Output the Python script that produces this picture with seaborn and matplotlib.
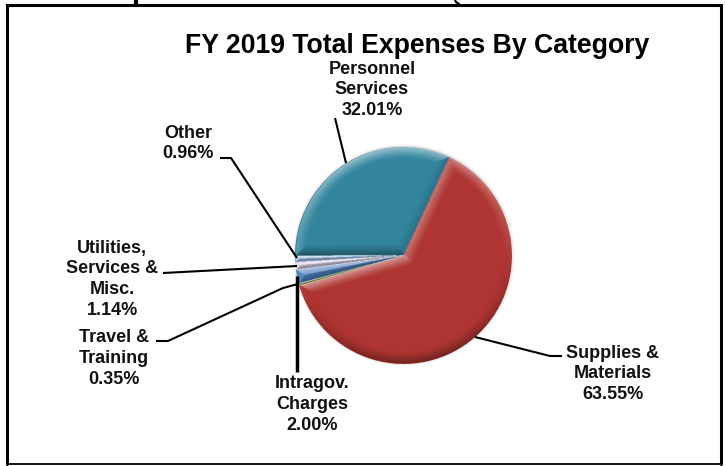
import numpy as np
import matplotlib.pyplot as plt
import seaborn as sns

sns.set_theme(style="white")
plt.rcParams['font.family'] = ['Liberation Sans', 'DejaVu Sans']

# slices clockwise, starting at the personnel/supplies boundary
categories = ["Supplies &\nMaterials", "Travel &\nTraining", "Intragov.\nCharges",
              "Utilities,\nServices &\nMisc.", "Other", "Personnel\nServices"]
shares = [63.55, 0.35, 2.00, 1.14, 0.96, 32.01]
slice_colors = ["#AE3531", "#8FA84F", "#4F81BD", "#DCD2EA", "#A9C6EE", "#33859E"]
chart_title = "FY 2019 Total Expenses By Category"

W, H = 726, 466
cx, cy, R = 403.5, H - 255.5, 108.5
start_angle = 65

# label centre (x, y of first line) in pixels from top left
label_pos = [(613, 351), (114, 336), (312, 382), (112, 246), (188, 131), (372, 67)]
leaders = [
    [(475, 337), (550, 356), (562, 356)],
    [(156, 341), (168, 341), (283, 288), (298, 284)],
    [(297, 276), (297, 372)],
    [(163, 273), (297, 266)],
    [(220, 158), (231, 158), (297, 258)],
    [(335, 118), (346, 163)],
]
leader_widths = [1.5, 1.5, 2.5, 1.5, 1.5, 1.5]


def bevel_overlay(values):
    # rgba layer that fakes the soft-edge bevel of the slices
    n = 2 * int(R + 6)
    xs = np.linspace(-n / 2, n / 2, n * 2)
    X, Y = np.meshgrid(xs, xs)
    rad = np.hypot(X, Y)
    ang = np.degrees(np.arctan2(Y, X))
    light = np.array([-0.15, 0.99])
    width = 12.0
    shade = np.zeros_like(X)
    a_end = start_angle
    for v in values:
        a_start = a_end - v * 3.6
        phi = (ang - a_start) % 360
        span = a_end - a_start
        inside = (phi <= span) & (rad <= R)
        d_arc = R - rad
        d_lo = rad * np.sin(np.radians(np.minimum(phi, 90)))
        d_hi = rad * np.sin(np.radians(np.minimum(span - phi, 90)))
        n_lo = np.radians(a_start - 90)
        n_hi = np.radians(a_end + 90)
        s_arc = (X * light[0] + Y * light[1]) / np.maximum(rad, 1)
        s_lo = np.cos(n_lo) * light[0] + np.sin(n_lo) * light[1]
        s_hi = np.cos(n_hi) * light[0] + np.sin(n_hi) * light[1]
        dist = np.minimum(np.minimum(d_arc, d_lo), d_hi)
        normal = np.where(dist == d_arc, s_arc, np.where(dist == d_lo, s_lo, s_hi))
        t = np.clip(1 - dist / width, 0, 1) ** 1.3
        # side of the rim still catches a little light
        shade[inside] = (t * (normal + 0.25))[inside]
        a_end = a_start
    rgba = np.zeros(X.shape + (4,))
    rgba[..., :3] = (shade > 0)[..., None] * 1.0
    rgba[..., 3] = np.clip(np.where(shade > 0, shade * 0.42, -shade * 0.5), 0, 1)
    # faint shadow outside the pie
    halo = (rad > R) & (rad < R + 3)
    rgba[halo, :3] = 0
    rgba[halo, 3] = 0.12 * (1 - (rad[halo] - R) / 3)
    return rgba, n


fig = plt.figure(figsize=(W / 100, H / 100), dpi=100)
ax = fig.add_axes([0, 0, 1, 1])

ax.pie(shares, colors=sns.color_palette(slice_colors), startangle=start_angle,
       counterclock=False, center=(cx, cy), radius=R, wedgeprops={"linewidth": 0})
overlay, size = bevel_overlay(shares)
ax.imshow(overlay, extent=(cx - size / 2, cx + size / 2, cy - size / 2, cy + size / 2),
          origin="lower", zorder=3, interpolation="bilinear", aspect="equal")

for pts, lw in zip(leaders, leader_widths):
    px = [p[0] for p in pts]
    py = [H - p[1] for p in pts]
    ax.plot(px, py, color="black", lw=lw, zorder=4, solid_capstyle="butt")

for name, val, (x, y) in zip(categories, shares, label_pos):
    ax.text(x, H - y + 6.5, f"{name}\n{val:.2f}%", ha="center", va="top",
            fontsize=13, fontweight="bold", color="#111111", linespacing=1.29, zorder=5)

ax.text(417, H - 53, chart_title, ha="center", va="baseline",
        fontsize=19.2, fontweight="bold", color="black", zorder=5)

# outer box
ax.plot([6.5, 6.5, 721, 721], [H - 464, H - 4.5, H - 4.5, H - 464],
        color="black", lw=2.2, zorder=6, solid_joinstyle="miter")
ax.plot([6.5, 721], [H - 464, H - 464], color="black", lw=1.3, zorder=6)
# tail of the heading cut off above the box
ax.plot([136, 136], [H, H - 4], color="black", lw=3, zorder=6, solid_capstyle="butt")
ax.plot([455, 456, 459], [H, H - 2, H - 4], color="black", lw=1.5, zorder=6)

ax.set_xlim(0, W)
ax.set_ylim(0, H)
ax.axis("off")
fig.savefig("out.png", dpi=100, facecolor="white")
